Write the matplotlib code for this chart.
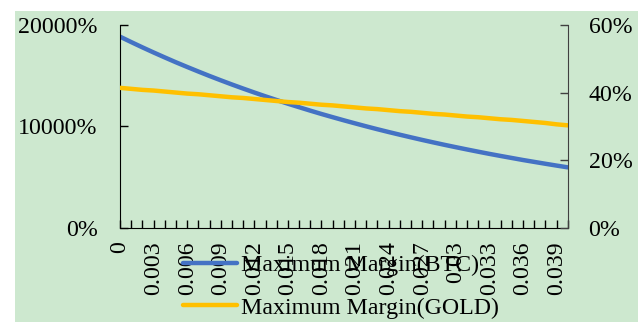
import matplotlib.pyplot as plt
from matplotlib.patches import Rectangle
from matplotlib.ticker import FuncFormatter

plt.rcParams['font.family'] = ['Liberation Serif', 'DejaVu Serif']

# friction rate steps 0 .. 0.040
rates = [i / 1000 for i in range(41)]
tick_labels = ['0', '0.003', '0.006', '0.009', '0.012', '0.015', '0.018', '0.021',
               '0.024', '0.027', '0.03', '0.033', '0.036', '0.039']

# maximum margin in percent
btc_margin = [18850, 18315, 17795, 17290, 16800, 16320, 15860, 15410, 14970, 14545,
              14130, 13730, 13340, 12960, 12595, 12235, 11890, 11550, 11220, 10905,
              10595, 10295, 10000, 9715, 9440, 9175, 8915, 8660, 8415, 8175,
              7945, 7720, 7500, 7285, 7080, 6880, 6680, 6495, 6310, 6130, 5955]
gold_margin = [41.4, 41.1, 40.8, 40.6, 40.3, 40.0, 39.7, 39.5, 39.2, 38.9,
               38.6, 38.4, 38.1, 37.8, 37.5, 37.2, 37.0, 36.7, 36.4, 36.2,
               35.9, 35.6, 35.3, 35.1, 34.8, 34.5, 34.3, 34.0, 33.7, 33.5,
               33.2, 32.9, 32.7, 32.4, 32.1, 31.9, 31.6, 31.3, 31.0, 30.6, 30.3]

FS = 17.2

fig = plt.figure(figsize=(6.38, 3.22), dpi=100)
fig.patch.set_facecolor('white')
fig.add_artist(Rectangle((15 / 638, 0), 1 - 15 / 638, 1 - 11 / 322,
                         transform=fig.transFigure, facecolor='#cde8cf',
                         edgecolor='none', zorder=-10))

ax = fig.add_axes([120 / 638, 1 - 227.7 / 322, 447.7 / 638, 202.7 / 322])
ax.set_facecolor('none')
x = list(range(len(rates)))
l1, = ax.plot(x, btc_margin, color='#4472c4', lw=3.2, solid_capstyle='round',
              label='Maximum Margin(BTC)')
ax.set_xlim(0, 40)
ax.set_ylim(0, 20000)
ax.set_yticks([0, 10000, 20000])
ax.yaxis.set_major_formatter(FuncFormatter(lambda v, p: f'{v:.0f}%'))

lbls = []
for i, r in enumerate(rates):
    lbls.append(tick_labels[i // 3] if i % 3 == 0 else '')
ax.set_xticks(x)
ax.set_xticklabels(lbls, rotation=90)

ax2 = ax.twinx()
l2, = ax2.plot(x, gold_margin, color='#ffc000', lw=3.2, solid_capstyle='round',
               label='Maximum Margin(GOLD)')
ax2.set_ylim(0, 60)
ax2.set_yticks([0, 20, 40, 60])
ax2.yaxis.set_major_formatter(FuncFormatter(lambda v, p: f'{v:.0f}%'))

for a in (ax, ax2):
    a.spines['top'].set_visible(False)
    a.tick_params(direction='in', length=6, width=1, labelsize=FS)
ax.spines['right'].set_visible(False)
ax2.spines['left'].set_visible(False)
ax2.spines['bottom'].set_visible(False)
ax2.spines['right'].set_color('#404040')
ax2.tick_params(axis='y', colors='#404040', labelcolor='black', pad=15)
ax.tick_params(axis='y', pad=16)
ax.tick_params(axis='x', pad=10)

fig.legend(handles=[l1, l2], loc='center', bbox_to_anchor=(341 / 638, 1 - 286.5 / 322),
           frameon=False, fontsize=FS, handlelength=2.25, handletextpad=0.2,
           labelspacing=0.88, borderpad=0)

fig.savefig('out.png', dpi=100)
